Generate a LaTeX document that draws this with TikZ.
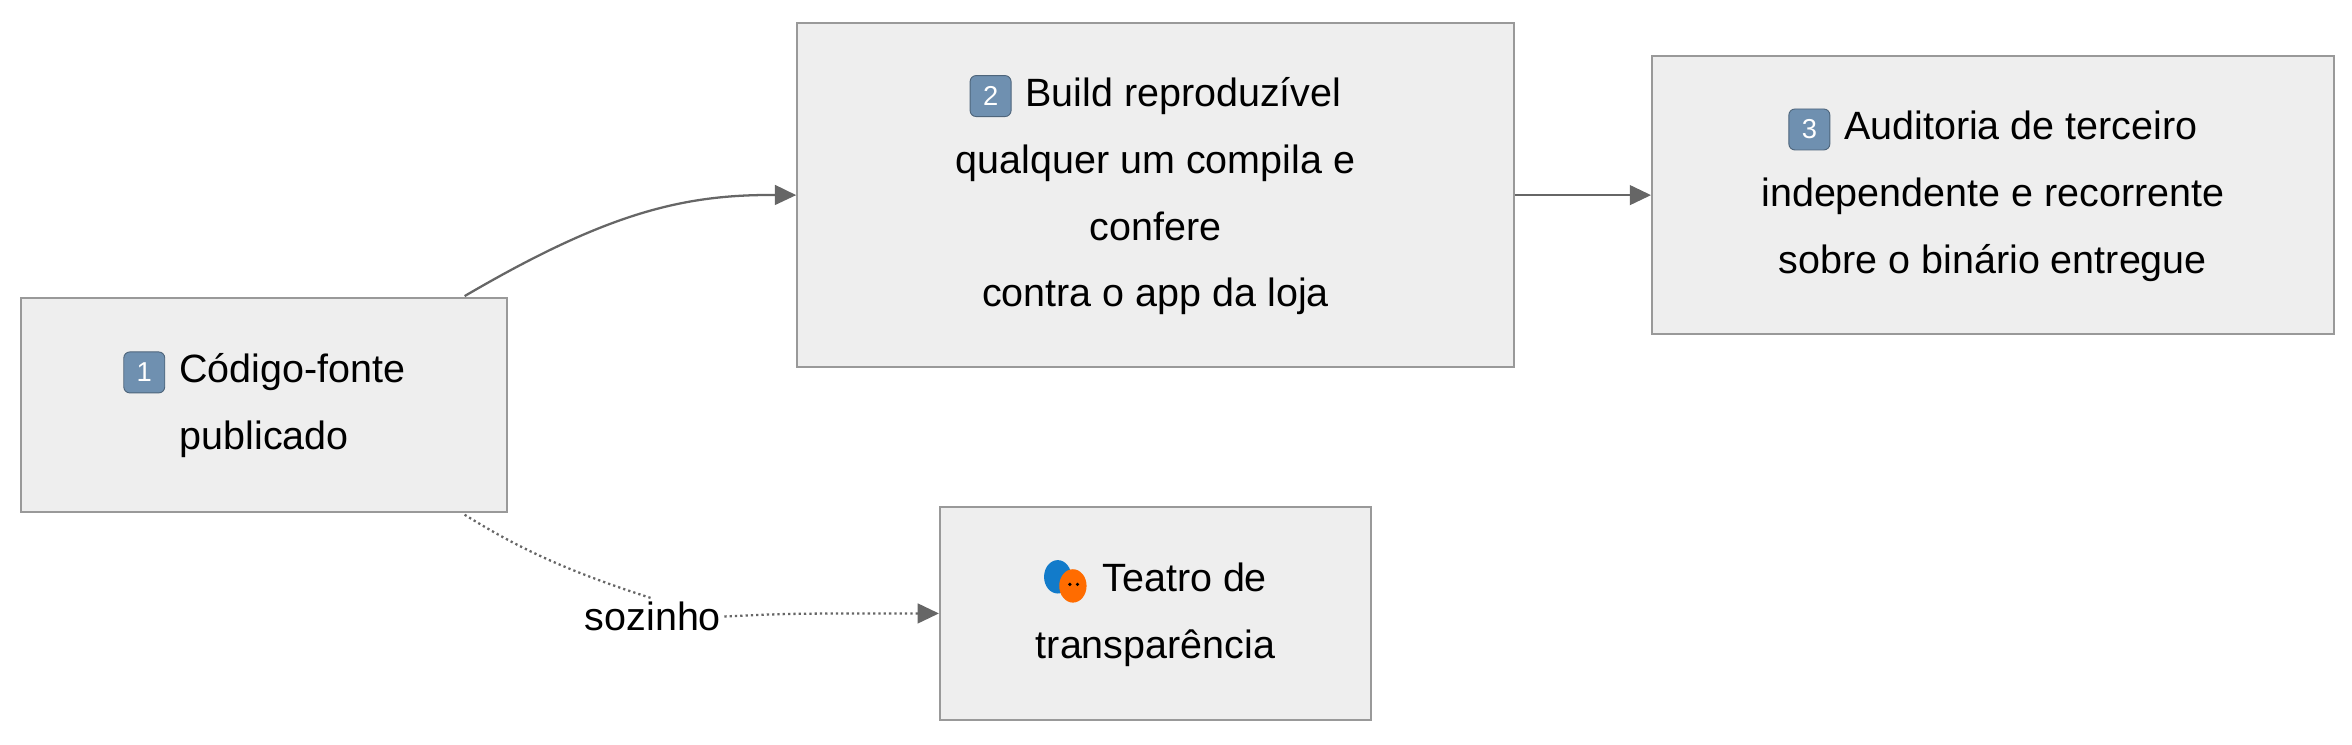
\documentclass[tikz,border=0pt]{standalone}
\usepackage{fontspec}
\setmainfont{Liberation Sans}
\usetikzlibrary{arrows.meta}
\definecolor{boxfill}{HTML}{EEEEEE}
\definecolor{boxline}{HTML}{999999}
\definecolor{edge}{HTML}{666666}
\definecolor{keyc}{HTML}{6F90B0}
\newcommand{\kcap}[1]{\tikz[baseline=-0.5ex]{\node[fill=keyc,draw=keyc!70!black,line width=0.6pt,rounded corners=4pt,minimum size=27pt,inner sep=0pt,text=white,font=\fontsize{18}{18}\selectfont] {#1};}\hspace{0.35em}}
\newcommand{\masks}{\tikz[baseline=-0.5ex]{\fill[cyan!60!blue] (-5pt,3pt) ellipse (9pt and 11pt);\fill[orange!85!red] (5pt,-3pt) ellipse (9pt and 11pt);\fill[black] (3pt,-2pt) circle (1.2pt) (8pt,-2pt) circle (1.2pt);}\hspace{0.4em}}
\tikzset{
  box/.style={draw=boxline,fill=boxfill,line width=1.3pt,align=center,inner sep=0pt,
    font=\fontsize{26}{44}\selectfont},
  conn/.style={draw=edge,line width=1.5pt,-{Triangle[length=14pt,width=13pt]}},
}
\begin{document}
\begin{tikzpicture}[x=1pt,y=-1pt]
\useasboundingbox (0,0) rectangle (1549,490);
\node[box,minimum width=320pt,minimum height=141pt] (a) at (174,266.5) {\kcap{1}Código-fonte\\publicado};
\node[box,minimum width=472pt,minimum height=227pt] (b) at (761,128.5) {\kcap{2}Build reproduzível\\qualquer um compila e\\confere\\contra o app da loja};
\node[box,minimum width=449pt,minimum height=183pt] (c) at (1312.5,128.5) {\kcap{3}Auditoria de terceiro\\independente e recorrente\\sobre o binário entregue};
\node[box,minimum width=284pt,minimum height=140pt] (d) at (761,404) {\masks Teatro de\\transparência};
\node[font=\fontsize{26}{30}\selectfont,inner sep=2pt] (l) at (430,406) {sozinho};
\coordinate (a1) at (306,195);
\coordinate (a2) at (306,339);
\draw[conn] (a1) .. controls (400,140) and (450,128) .. (b.west);
\draw[conn] (b.east |- c.west) -- (c.west);
\draw[edge,line width=1.5pt,dotted] (a2) .. controls (340,360) and (370,375) .. (l.north);
\draw[conn,dotted] (l.east) .. controls (520,404) .. (d.west);
\end{tikzpicture}
\end{document}
